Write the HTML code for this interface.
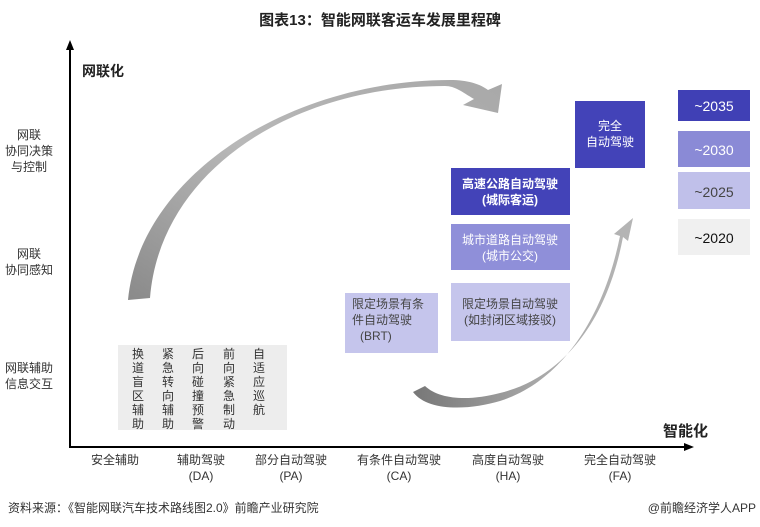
<!DOCTYPE html>
<html><head><meta charset="utf-8"><style>
body{margin:0;background:#fff;}
svg{display:block;font-family:"Liberation Sans","Noto Sans CJK SC",sans-serif;}
</style></head><body>
<svg width="760" height="527" viewBox="0 0 760 527">
<defs>
<linearGradient id="g1" x1="0" y1="1" x2="1" y2="0"><stop offset="0" stop-color="#8a8a8a"/><stop offset="0.5" stop-color="#b8b8b8"/><stop offset="1" stop-color="#a8a8a8"/></linearGradient>
<linearGradient id="g2" x1="0" y1="0" x2="1" y2="0"><stop offset="0" stop-color="#777"/><stop offset="0.6" stop-color="#aaa"/><stop offset="1" stop-color="#b5b5b5"/></linearGradient>
</defs>
<text x="380" y="25" font-size="15" font-weight="bold" text-anchor="middle" fill="#222">图表13：智能网联客运车发展里程碑</text>
<line x1="70" y1="48" x2="70" y2="448" stroke="#000" stroke-width="2"/>
<polygon points="70,40 66,50 74,50" fill="#000"/>
<line x1="69" y1="447" x2="686" y2="447" stroke="#000" stroke-width="2"/>
<polygon points="694,447 684,443 684,451" fill="#000"/>
<text x="82" y="76" font-size="14" font-weight="bold" fill="#222">网联化</text>
<text x="663" y="436" font-size="15" font-weight="bold" fill="#222">智能化</text>
<g font-size="12" fill="#333" text-anchor="middle">
<text x="29" y="139">网联</text><text x="29" y="155">协同决策</text><text x="29" y="171">与控制</text>
<text x="29" y="258">网联</text><text x="29" y="274">协同感知</text>
<text x="29" y="372">网联辅助</text><text x="29" y="388">信息交互</text>
<text x="115" y="464">安全辅助</text>
<text x="201" y="464">辅助驾驶</text><text x="201" y="480">(DA)</text>
<text x="291" y="464">部分自动驾驶</text><text x="291" y="480">(PA)</text>
<text x="399" y="464">有条件自动驾驶</text><text x="399" y="480">(CA)</text>
<text x="508" y="464">高度自动驾驶</text><text x="508" y="480">(HA)</text>
<text x="620" y="464">完全自动驾驶</text><text x="620" y="480">(FA)</text>
</g>
<rect x="118" y="345" width="169" height="85" fill="#ededed"/>
<g font-size="12" fill="#333" text-anchor="middle">
<text x="138" y="358"><tspan x="138" dy="0">换</tspan><tspan x="138" dy="14">道</tspan><tspan x="138" dy="14">盲</tspan><tspan x="138" dy="14">区</tspan><tspan x="138" dy="14">辅</tspan><tspan x="138" dy="14">助</tspan></text>
<text x="168" y="358"><tspan x="168" dy="0">紧</tspan><tspan x="168" dy="14">急</tspan><tspan x="168" dy="14">转</tspan><tspan x="168" dy="14">向</tspan><tspan x="168" dy="14">辅</tspan><tspan x="168" dy="14">助</tspan></text>
<text x="198" y="358"><tspan x="198" dy="0">后</tspan><tspan x="198" dy="14">向</tspan><tspan x="198" dy="14">碰</tspan><tspan x="198" dy="14">撞</tspan><tspan x="198" dy="14">预</tspan><tspan x="198" dy="14">警</tspan></text>
<text x="229" y="358"><tspan x="229" dy="0">前</tspan><tspan x="229" dy="14">向</tspan><tspan x="229" dy="14">紧</tspan><tspan x="229" dy="14">急</tspan><tspan x="229" dy="14">制</tspan><tspan x="229" dy="14">动</tspan></text>
<text x="259" y="358"><tspan x="259" dy="0">自</tspan><tspan x="259" dy="14">适</tspan><tspan x="259" dy="14">应</tspan><tspan x="259" dy="14">巡</tspan><tspan x="259" dy="14">航</tspan></text>
</g>
<path d="M128,300 C140,175 290,80 450,80 C468,80 480,84 488,90 L502,84 L498,113 L463,105 L474,99 C462,92 455,86 445,86 C290,86 160,172 150,298 Z" fill="url(#g1)"/>
<path d="M413,392 C428,412 470,410 500,401 C560,382 603,320 620,236 L614,234 L633,218 L628,241 L623,237 C607,322 562,378 500,393 C470,401 440,400 425,386 Z" fill="url(#g2)"/>
<rect x="345" y="293" width="93" height="60" fill="#c5c5ec"/>
<g font-size="12" fill="#444"><text x="352" y="308">限定场景有条</text><text x="352" y="324">件自动驾驶</text><text x="360" y="340">(BRT)</text></g>
<rect x="451" y="283" width="119" height="58" fill="#c5c5ec"/>
<g font-size="12" fill="#444" text-anchor="middle"><text x="510" y="308">限定场景自动驾驶</text><text x="510" y="324">(如封闭区域接驳)</text></g>
<rect x="451" y="224" width="119" height="46" fill="#8f8fd9"/>
<g font-size="12" fill="#fff" text-anchor="middle"><text x="510" y="244">城市道路自动驾驶</text><text x="510" y="260">(城市公交)</text></g>
<rect x="451" y="168" width="119" height="47" fill="#4343b8"/>
<g font-size="12" fill="#fff" font-weight="bold" text-anchor="middle"><text x="510" y="188">高速公路自动驾驶</text><text x="510" y="204">(城际客运)</text></g>
<rect x="575" y="101" width="70" height="67" fill="#4343b8"/>
<g font-size="12" fill="#fff" text-anchor="middle"><text x="610" y="130">完全</text><text x="610" y="146">自动驾驶</text></g>
<rect x="678" y="90" width="72" height="31" fill="#4040b5"/>
<text x="714" y="111" font-size="14" fill="#fff" text-anchor="middle">~2035</text>
<rect x="678" y="131" width="72" height="36" fill="#8a8ad6"/>
<text x="714" y="155" font-size="14" fill="#fff" text-anchor="middle">~2030</text>
<rect x="678" y="172" width="72" height="37" fill="#c0c0ea"/>
<text x="714" y="197" font-size="14" fill="#444" text-anchor="middle">~2025</text>
<rect x="678" y="219" width="72" height="36" fill="#f0f0f0"/>
<text x="714" y="243" font-size="14" fill="#111" text-anchor="middle">~2020</text>
<text x="8" y="512" font-size="12" fill="#333">资料来源：《智能网联汽车技术路线图2.0》前瞻产业研究院</text>
<text x="756" y="512" font-size="12" fill="#333" text-anchor="end">@前瞻经济学人APP</text>
</svg>
</body></html>
